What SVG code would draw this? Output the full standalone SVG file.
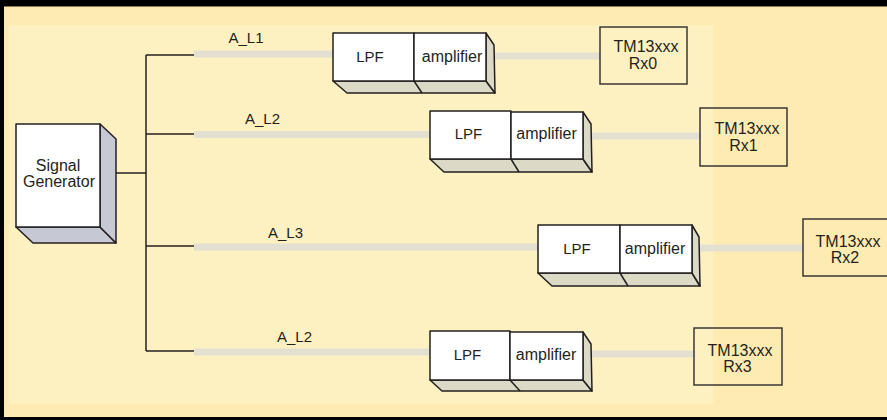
<svg xmlns="http://www.w3.org/2000/svg" width="887" height="420" viewBox="0 0 887 420">
<style>
text{font-family:"Liberation Sans",Arial,sans-serif;fill:#231f20;text-anchor:middle}
.lbl{font-size:15px}
.t16{font-size:16px}
.t15{font-size:15px}
.face{fill:#ffffff;stroke:#231f20;stroke-width:1.5;stroke-linejoin:round}
.shade{fill:#dcdac6;stroke:#231f20;stroke-width:1.5;stroke-linejoin:round}
.gshade{fill:#c6c8d4;stroke:#231f20;stroke-width:1.5;stroke-linejoin:round}
.rx{fill:none;stroke:#3a3735;stroke-width:1.5}
.wire{fill:none;stroke:#231f20;stroke-width:1.5}
.bus{fill:none;stroke:#e3e0d2;stroke-width:7}
</style>
<rect x="0" y="0" width="887" height="420" fill="#000"/>
<rect x="4" y="6" width="883" height="411" fill="#feebb2"/>
<line x1="4" y1="6.5" x2="887" y2="6.5" stroke="#8a7b55" stroke-width="1"/>
<rect x="9" y="25" width="704" height="379" fill="#fef1c1"/>

<g id="connectors">
<polyline class="wire" points="116,173 146,173"/>
<polyline class="wire" points="146,55 146,351"/>
<polyline class="wire" points="146,55 194,55"/>
<polyline class="wire" points="146,134 194,134"/>
<polyline class="wire" points="146,246 194,246"/>
<polyline class="wire" points="146,351 194,351"/>
<line class="bus" x1="194" y1="54" x2="333" y2="54"/>
<line class="bus" x1="495" y1="56" x2="600" y2="56"/>
<line class="bus" x1="194" y1="134.5" x2="430" y2="134.5"/>
<line class="bus" x1="592" y1="136" x2="700" y2="136"/>
<line class="bus" x1="194" y1="247" x2="538" y2="247"/>
<line class="bus" x1="700" y1="248" x2="803" y2="248"/>
<line class="bus" x1="194" y1="352" x2="430" y2="352"/>
<line class="bus" x1="592" y1="354" x2="694" y2="354"/>
<text class="lbl" x="246" y="43">A_L1</text>
<text class="lbl" x="262.5" y="124">A_L2</text>
<text class="lbl" x="285.5" y="238">A_L3</text>
<text class="lbl" x="294.5" y="342">A_L2</text>
</g>

<g id="signal-generator">
<polygon class="gshade" points="16,227 100,227 116,243 33,243"/>
<polygon class="gshade" points="100,124 116,139 116,243 100,227"/>
<rect class="face" x="16" y="124" width="84" height="103"/>
<text class="t16" x="58" y="171">Signal</text>
<text class="t16" x="59" y="187">Generator</text>
</g>

<g id="chain1">
<polygon class="shade" points="333,81 486,81 495,93 347,93"/>
<polygon class="shade" points="486,33 494,45 495,93 486,81"/>
<line class="wire" x1="414" y1="81" x2="422" y2="93"/>
<rect class="face" x="333" y="33" width="81" height="48"/>
<rect class="face" x="414" y="33" width="72" height="48"/>
<text class="t15" x="370" y="62">LPF</text>
<text class="t16" x="452" y="62">amplifier</text>
</g>

<g id="chain2">
<polygon class="shade" points="430,159 583,159 592,172 444,172"/>
<polygon class="shade" points="583,112 591,124 592,172 583,159"/>
<line class="wire" x1="511" y1="159" x2="519" y2="172"/>
<rect class="face" x="430" y="111" width="81" height="48"/>
<rect class="face" x="511" y="112" width="72" height="47"/>
<text class="t15" x="468.5" y="139">LPF</text>
<text class="t16" x="546.5" y="139">amplifier</text>
</g>

<g id="chain3">
<polygon class="shade" points="538,273 692,273 700,286 552,286"/>
<polygon class="shade" points="692,225 699,237 700,286 692,273"/>
<line class="wire" x1="620" y1="273" x2="628" y2="286"/>
<rect class="face" x="538" y="225" width="82" height="48"/>
<rect class="face" x="620" y="225" width="72" height="48"/>
<text class="t15" x="577" y="254">LPF</text>
<text class="t16" x="655" y="254">amplifier</text>
</g>

<g id="chain4">
<polygon class="shade" points="430,380 583,380 592,391 442,391"/>
<polygon class="shade" points="583,332 591,344 592,391 583,380"/>
<line class="wire" x1="510" y1="380" x2="520" y2="391"/>
<rect class="face" x="430" y="331" width="80" height="49"/>
<rect class="face" x="510" y="332" width="73" height="48"/>
<text class="t15" x="467.5" y="360">LPF</text>
<text class="t16" x="546" y="360">amplifier</text>
</g>

<g id="rx0">
<rect class="rx" x="600" y="27" width="87" height="57"/>
<text class="t16" x="646" y="52">TM13xxx</text>
<text class="t16" x="643" y="69">Rx0</text>
</g>
<g id="rx1">
<rect class="rx" x="700" y="108" width="87" height="58"/>
<text class="t16" x="747" y="134">TM13xxx</text>
<text class="t16" x="743.5" y="151">Rx1</text>
</g>
<g id="rx2">
<rect class="rx" x="803" y="219" width="100" height="57"/>
<text class="t16" x="848" y="247">TM13xxx</text>
<text class="t16" x="845" y="263">Rx2</text>
</g>
<g id="rx3">
<rect class="rx" x="694" y="328" width="88" height="57"/>
<text class="t16" x="740" y="356">TM13xxx</text>
<text class="t16" x="737.5" y="372">Rx3</text>
</g>
</svg>
